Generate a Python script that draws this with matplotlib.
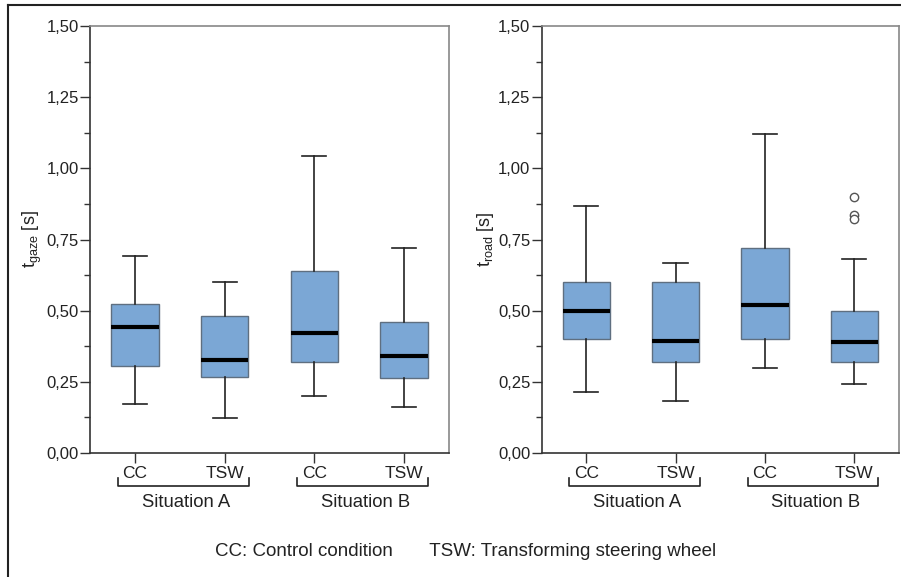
import matplotlib
matplotlib.use("Agg")
import matplotlib.pyplot as plt
from matplotlib.lines import Line2D
from matplotlib.ticker import MultipleLocator, FuncFormatter

plt.rcParams['font.family'] = ['Liberation Sans', 'DejaVu Sans']
plt.rcParams['mathtext.default'] = 'regular'

# box statistics: whisker low, Q1, median, Q3, whisker high
conditions = ["CC", "TSW", "CC", "TSW"]
situations = ["Situation A", "Situation B"]

gaze_low = [0.173, 0.122, 0.200, 0.162]
gaze_q1 = [0.307, 0.266, 0.321, 0.262]
gaze_med = [0.441, 0.328, 0.421, 0.341]
gaze_q3 = [0.522, 0.481, 0.639, 0.460]
gaze_high = [0.692, 0.602, 1.042, 0.721]
gaze_fliers = [[], [], [], []]

road_low = [0.215, 0.182, 0.300, 0.241]
road_q1 = [0.399, 0.321, 0.399, 0.321]
road_med = [0.498, 0.394, 0.521, 0.391]
road_q3 = [0.602, 0.602, 0.720, 0.500]
road_high = [0.868, 0.667, 1.121, 0.683]
road_fliers = [[], [], [], [0.90, 0.836, 0.822]]

box_color = "#7ba7d5"
box_edge = "#5f6f80"


def make_stats(low, q1, med, q3, high, fliers):
    stats = []
    for i in range(len(low)):
        stats.append(dict(whislo=low[i], q1=q1[i], med=med[i], q3=q3[i],
                          whishi=high[i], fliers=fliers[i]))
    return stats


def draw_panel(ax, stats, ylabel):
    pos = [0.5, 1.5, 2.5, 3.5]
    ax.bxp(stats, positions=pos, widths=0.53, patch_artist=True,
           showfliers=True, capwidths=0.27,
           boxprops=dict(facecolor=box_color, edgecolor=box_edge, linewidth=1.0),
           medianprops=dict(color="black", linewidth=3.0),
           whiskerprops=dict(color="#222222", linewidth=1.2),
           capprops=dict(color="#222222", linewidth=1.2),
           flierprops=dict(marker="o", markersize=6, markerfacecolor="white",
                           markeredgecolor="#555555", markeredgewidth=1.0))
    ax.set_xlim(0, 4)
    ax.set_ylim(0, 1.5)
    ax.yaxis.set_major_locator(MultipleLocator(0.25))
    ax.yaxis.set_minor_locator(MultipleLocator(0.125))
    ax.yaxis.set_major_formatter(FuncFormatter(lambda v, p: ("%.2f" % v).replace(".", ",")))
    ax.set_xticks(pos)
    ax.set_xticklabels(conditions)
    ax.tick_params(axis="both", which="major", direction="out", length=7,
                   width=1.0, color="#333333", labelsize=12.5, labelcolor="#222222")
    ax.tick_params(axis="y", which="minor", direction="out", length=4,
                   width=1.0, color="#333333")
    ax.tick_params(axis="x", pad=2)
    ax.tick_params(axis="y", pad=1, labelsize=12)
    for s in ["left", "bottom"]:
        ax.spines[s].set_color("#333333")
        ax.spines[s].set_linewidth(1.2)
    for s in ["top", "right"]:
        ax.spines[s].set_color("#888888")
        ax.spines[s].set_linewidth(1.2)
    ax.set_ylabel(ylabel, fontsize=13, color="#222222")
    ax.yaxis.set_label_coords(-0.128, 0.5)

    # group brackets below the axis
    trans = ax.get_xaxis_transform()
    for k, name in enumerate(situations):
        x0 = pos[2 * k] - 0.19
        x1 = pos[2 * k + 1] + 0.27
        yb = -0.077
        yt = -0.059
        ax.plot([x0, x0, x1, x1], [yt, yb, yb, yt], color="#222222",
                linewidth=1.2, transform=trans, clip_on=False)
        ax.text((x0 + x1) / 2 + 0.03, -0.117, name, transform=trans,
                ha="center", va="center", fontsize=13.3, color="#222222")


fig = plt.figure(figsize=(9.01, 5.77), dpi=100)
H = 577.0
W = 901.0
ax1 = fig.add_axes([90 / W, 1 - 453 / H, 359 / W, 427 / H])
ax2 = fig.add_axes([541.5 / W, 1 - 453 / H, 357.5 / W, 427 / H])

draw_panel(ax1, make_stats(gaze_low, gaze_q1, gaze_med, gaze_q3, gaze_high, gaze_fliers),
           "t$_{gaze}$ [s]")
draw_panel(ax2, make_stats(road_low, road_q1, road_med, road_q3, road_high, road_fliers),
           "t$_{road}$ [s]")

fig.text(466 / W, 1 - 551 / H,
         "CC: Control condition       TSW: Transforming steering wheel",
         ha="center", va="center", fontsize=13.5, color="#222222")

# outer frame lines (top and left)
fig.add_artist(Line2D([8 / W, 1.0], [1 - 5 / H, 1 - 5 / H], color="#222222", linewidth=1.5))
fig.add_artist(Line2D([8 / W, 8 / W], [0, 1 - 5 / H], color="#222222", linewidth=1.5))

fig.savefig("out.png", dpi=100)
